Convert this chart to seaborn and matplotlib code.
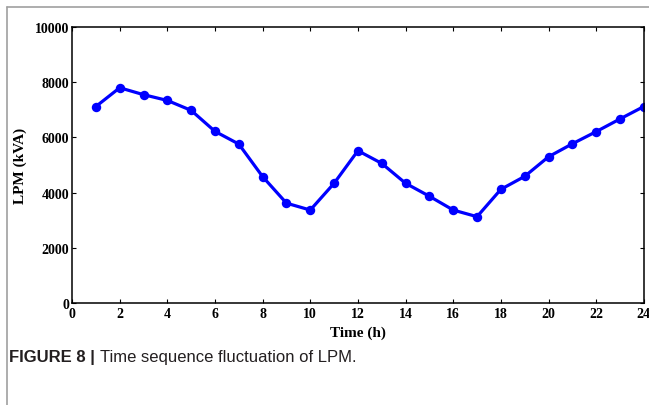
import seaborn as sns
import matplotlib.pyplot as plt
import pandas as pd
from matplotlib.lines import Line2D

hours = list(range(1, 25))
lpm = [7120, 7800, 7550, 7340, 6980, 6220, 5760, 4580, 3620, 3370, 4340, 5520,
       5060, 4340, 3870, 3370, 3130, 4120, 4590, 5300, 5770, 6210, 6670, 7120]
x_ticks = list(range(0, 25, 2))
y_ticks = list(range(0, 10001, 2000))

df = pd.DataFrame({'Time (h)': hours, 'LPM (kVA)': lpm})

sns.set_theme(style='ticks', rc={'axes.edgecolor': 'black', 'xtick.color': 'black',
                                 'ytick.color': 'black', 'text.color': 'black',
                                 'axes.labelcolor': 'black'})
plt.rcParams['font.family'] = ['Liberation Serif', 'DejaVu Serif']
plt.rcParams['xtick.direction'] = 'in'
plt.rcParams['ytick.direction'] = 'in'
plt.rcParams['xtick.top'] = True
plt.rcParams['ytick.right'] = True

fig = plt.figure(figsize=(6.49, 4.06), dpi=100)
ax = fig.add_axes([0.111, 0.251, 0.881, 0.680])

sns.lineplot(data=df, x='Time (h)', y='LPM (kVA)', ax=ax, color='#0000ff',
             linewidth=2.3, marker='o', markersize=6.8, markeredgewidth=0)

ax.set_xlim(0, 24)
ax.set_ylim(0, 10000)
ax.set_xticks(x_ticks)
ax.set_yticks(y_ticks)
ax.tick_params(length=3, width=0.8, labelsize=10, pad=2)
ax.tick_params(axis='x', pad=3)
for lab in ax.get_xticklabels() + ax.get_yticklabels():
    lab.set_fontweight('bold')
for sp in ax.spines.values():
    sp.set_linewidth(1.1)
ax.set_xlabel('Time (h)', fontsize=11, fontweight='bold', labelpad=4)
ax.set_ylabel('LPM (kVA)', fontsize=11, fontweight='bold', labelpad=6)

# frame lines of the figure panel
fig.add_artist(Line2D([7 / 649, 7 / 649], [0, 1 - 8 / 406], color='#a0a0a0', lw=1.2))
fig.add_artist(Line2D([7 / 649, 1], [1 - 8 / 406, 1 - 8 / 406], color='#a0a0a0', lw=1.2))

# caption
cap_y = 1 - 358 / 406
t1 = fig.text(9 / 649, cap_y, 'FIGURE 8 | ', fontsize=12, fontweight='bold',
              family=['Liberation Sans', 'DejaVu Sans'], color='#231f20', va='center')
fig.canvas.draw()
bb = t1.get_window_extent(renderer=fig.canvas.get_renderer())
fig.text(bb.x1 / fig.bbox.width, cap_y, 'Time sequence fluctuation of LPM.', fontsize=12,
         family=['Liberation Sans', 'DejaVu Sans'], color='#231f20', va='center')

fig.savefig('out.png', dpi=100)
